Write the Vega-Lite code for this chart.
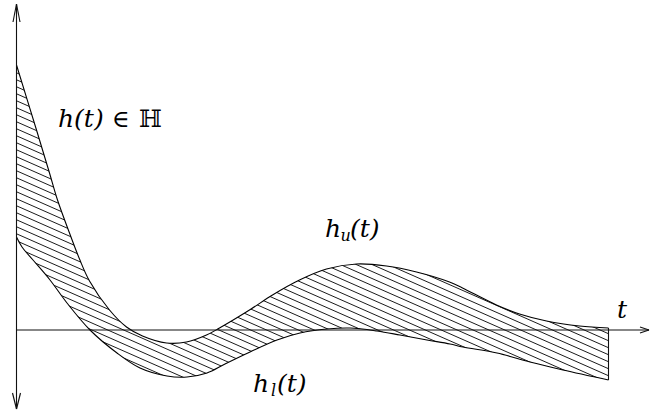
{
  "$schema": "https://vega.github.io/schema/vega-lite/v6.json",
  "width": 650,
  "height": 414,
  "padding": 0,
  "autosize": {"type": "none"},
  "background": "white",
  "config": {"view": {"stroke": null}},
  "datasets": {
    "upper": [
      {"t": 0, "h": 265}, {"t": 20, "h": 200}, {"t": 33, "h": 157}, {"t": 41, "h": 130},
      {"t": 53, "h": 97}, {"t": 63, "h": 71}, {"t": 73, "h": 49}, {"t": 93, "h": 20},
      {"t": 110, "h": 3}, {"t": 126, "h": -6}, {"t": 150, "h": -13}, {"t": 170, "h": -12},
      {"t": 190, "h": -5}, {"t": 203, "h": 2}, {"t": 233, "h": 20}, {"t": 256, "h": 35},
      {"t": 283, "h": 50}, {"t": 310, "h": 61}, {"t": 340, "h": 66}, {"t": 370, "h": 64},
      {"t": 400, "h": 58}, {"t": 433, "h": 48}, {"t": 446, "h": 42}, {"t": 480, "h": 25},
      {"t": 503, "h": 16}, {"t": 530, "h": 9}, {"t": 563, "h": 4}, {"t": 592, "h": 2}
    ],
    "lower": [
      {"t": 0, "h": 93}, {"t": 5.5, "h": 83}, {"t": 16.5, "h": 70}, {"t": 33.5, "h": 50},
      {"t": 50.5, "h": 27}, {"t": 73.5, "h": 0}, {"t": 100.5, "h": -23}, {"t": 123.5, "h": -38},
      {"t": 150.5, "h": -46}, {"t": 170.5, "h": -47}, {"t": 190.5, "h": -43}, {"t": 208.5, "h": -34},
      {"t": 233.5, "h": -22}, {"t": 260.5, "h": -10}, {"t": 283.5, "h": -3}, {"t": 310.5, "h": 1},
      {"t": 333.5, "h": 2}, {"t": 360.5, "h": -1}, {"t": 383.5, "h": -5}, {"t": 410.5, "h": -10},
      {"t": 433.5, "h": -14}, {"t": 446.5, "h": -17}, {"t": 480.5, "h": -23}, {"t": 513.5, "h": -32},
      {"t": 546.5, "h": -40}, {"t": 592, "h": -50}
    ],
    "hatch": [
      {"y0": 12, "y1": -248.5}, {"y0": 19, "y1": -241.5}, {"y0": 26, "y1": -234.5}, {"y0": 33, "y1": -227.5},
      {"y0": 40, "y1": -220.5}, {"y0": 47, "y1": -213.5}, {"y0": 54, "y1": -206.5}, {"y0": 61, "y1": -199.5},
      {"y0": 68, "y1": -192.5}, {"y0": 75, "y1": -185.5}, {"y0": 82, "y1": -178.5}, {"y0": 89, "y1": -171.5},
      {"y0": 96, "y1": -164.5}, {"y0": 103, "y1": -157.5}, {"y0": 110, "y1": -150.5}, {"y0": 117, "y1": -143.5},
      {"y0": 124, "y1": -136.5}, {"y0": 131, "y1": -129.5}, {"y0": 138, "y1": -122.5}, {"y0": 145, "y1": -115.5},
      {"y0": 152, "y1": -108.5}, {"y0": 159, "y1": -101.5}, {"y0": 166, "y1": -94.5}, {"y0": 173, "y1": -87.5},
      {"y0": 180, "y1": -80.5}, {"y0": 187, "y1": -73.5}, {"y0": 194, "y1": -66.5}, {"y0": 201, "y1": -59.5},
      {"y0": 208, "y1": -52.5}, {"y0": 215, "y1": -45.5}, {"y0": 222, "y1": -38.5}, {"y0": 229, "y1": -31.5},
      {"y0": 236, "y1": -24.5}, {"y0": 243, "y1": -17.5}, {"y0": 250, "y1": -10.5}, {"y0": 257, "y1": -3.5},
      {"y0": 264, "y1": 3.5}, {"y0": 271, "y1": 10.5}
    ],
    "axes": [
      {"x0": 0, "y0": -79, "x1": 0, "y1": 326},
      {"x0": 0, "y0": 0, "x1": 632.5, "y1": 0},
      {"x0": 0, "y0": 326, "x1": -3.5, "y1": 308},
      {"x0": 0, "y0": 326, "x1": 3.5, "y1": 308},
      {"x0": 0, "y0": -79, "x1": -4, "y1": -63},
      {"x0": 0, "y0": -79, "x1": 4, "y1": -63},
      {"x0": 632.5, "y0": 0, "x1": 623.5, "y1": 3},
      {"x0": 632.5, "y0": 0, "x1": 623.5, "y1": -3},
      {"x0": 592, "y0": 2, "x1": 592, "y1": -50}
    ],
    "italic": [
      {"t": 41.5, "h": 203, "text": "h(t)"},
      {"t": 308.5, "h": 93, "text": "h"},
      {"t": 333.5, "h": 93, "text": "(t)"},
      {"t": 236.5, "h": -62, "text": "h"},
      {"t": 260.5, "h": -62, "text": "(t)"},
      {"t": 600.5, "h": 12, "text": "t"}
    ],
    "subscripts": [
      {"t": 324, "h": 89, "text": "u"},
      {"t": 254.5, "h": -66, "text": "l"}
    ],
    "upright": [
      {"t": 95.5, "h": 203, "text": "∈"},
      {"t": 122.5, "h": 203, "text": "ℍ"}
    ]
  },
  "layer": [
    {
      "data": {"name": "hatch"},
      "mark": {"type": "rule", "stroke": "#000", "strokeWidth": 0.9},
      "encoding": {
        "x": {"datum": 0.5, "type": "quantitative", "scale": {"domain": [-16.5, 633.5], "nice": false, "zero": false}, "axis": null},
        "x2": {"datum": 591.5},
        "y": {"field": "y0", "type": "quantitative", "scale": {"domain": [-84, 330], "nice": false, "zero": false}, "axis": null},
        "y2": {"field": "y1"}
      }
    },
    {
      "data": {"name": "upper"},
      "mark": {"type": "area", "interpolate": "catmull-rom", "fill": "white", "opacity": 1},
      "encoding": {
        "x": {"field": "t", "type": "quantitative", "scale": {"domain": [-16.5, 633.5], "nice": false, "zero": false}, "axis": null},
        "y": {"field": "h", "type": "quantitative", "scale": {"domain": [-84, 330], "nice": false, "zero": false}, "axis": null},
        "y2": {"datum": 330}
      }
    },
    {
      "data": {"name": "lower"},
      "mark": {"type": "area", "interpolate": "catmull-rom", "fill": "white", "opacity": 1},
      "encoding": {
        "x": {"field": "t", "type": "quantitative", "scale": {"domain": [-16.5, 633.5], "nice": false, "zero": false}, "axis": null},
        "y": {"field": "h", "type": "quantitative", "scale": {"domain": [-84, 330], "nice": false, "zero": false}, "axis": null},
        "y2": {"datum": -84}
      }
    },
    {
      "data": {"name": "upper"},
      "mark": {"type": "line", "interpolate": "catmull-rom", "stroke": "#000", "strokeWidth": 1.1},
      "encoding": {
        "x": {"field": "t", "type": "quantitative", "scale": {"domain": [-16.5, 633.5], "nice": false, "zero": false}, "axis": null},
        "y": {"field": "h", "type": "quantitative", "scale": {"domain": [-84, 330], "nice": false, "zero": false}, "axis": null}
      }
    },
    {
      "data": {"name": "lower"},
      "mark": {"type": "line", "interpolate": "catmull-rom", "stroke": "#000", "strokeWidth": 1.1},
      "encoding": {
        "x": {"field": "t", "type": "quantitative", "scale": {"domain": [-16.5, 633.5], "nice": false, "zero": false}, "axis": null},
        "y": {"field": "h", "type": "quantitative", "scale": {"domain": [-84, 330], "nice": false, "zero": false}, "axis": null}
      }
    },
    {
      "data": {"name": "axes"},
      "mark": {"type": "rule", "stroke": "#111", "strokeWidth": 1.1},
      "encoding": {
        "x": {"field": "x0", "type": "quantitative", "scale": {"domain": [-16.5, 633.5], "nice": false, "zero": false}, "axis": null},
        "x2": {"field": "x1"},
        "y": {"field": "y0", "type": "quantitative", "scale": {"domain": [-84, 330], "nice": false, "zero": false}, "axis": null},
        "y2": {"field": "y1"}
      }
    },
    {
      "data": {"name": "italic"},
      "mark": {"type": "text", "font": "DejaVu Serif", "fontStyle": "italic", "fontSize": 25, "align": "left", "baseline": "alphabetic", "color": "#000"},
      "encoding": {
        "x": {"field": "t", "type": "quantitative", "scale": {"domain": [-16.5, 633.5], "nice": false, "zero": false}, "axis": null},
        "y": {"field": "h", "type": "quantitative", "scale": {"domain": [-84, 330], "nice": false, "zero": false}, "axis": null},
        "text": {"field": "text"}
      }
    },
    {
      "data": {"name": "subscripts"},
      "mark": {"type": "text", "font": "DejaVu Serif", "fontStyle": "italic", "fontSize": 16, "align": "left", "baseline": "alphabetic", "color": "#000"},
      "encoding": {
        "x": {"field": "t", "type": "quantitative", "scale": {"domain": [-16.5, 633.5], "nice": false, "zero": false}, "axis": null},
        "y": {"field": "h", "type": "quantitative", "scale": {"domain": [-84, 330], "nice": false, "zero": false}, "axis": null},
        "text": {"field": "text"}
      }
    },
    {
      "data": {"name": "upright"},
      "mark": {"type": "text", "font": "DejaVu Serif", "fontSize": 24, "align": "left", "baseline": "alphabetic", "color": "#000"},
      "encoding": {
        "x": {"field": "t", "type": "quantitative", "scale": {"domain": [-16.5, 633.5], "nice": false, "zero": false}, "axis": null},
        "y": {"field": "h", "type": "quantitative", "scale": {"domain": [-84, 330], "nice": false, "zero": false}, "axis": null},
        "text": {"field": "text"}
      }
    }
  ]
}
